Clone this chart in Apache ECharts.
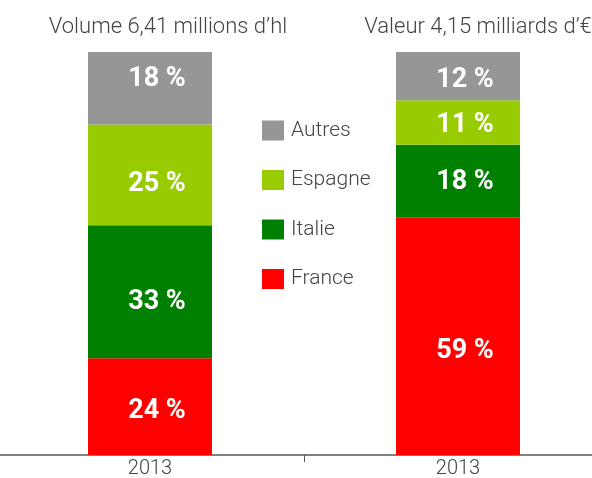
<!DOCTYPE html>
<html>
<head>
<meta charset="utf-8">
<script src="https://cdn.jsdelivr.net/npm/echarts@6/dist/echarts.min.js"></script>
<style>html,body{margin:0;padding:0;background:#fff}#c{width:592px;height:478px}</style>
</head>
<body>
<div id="c"></div>
<script>
var categories = ['2013', '2013'];
var panelTitles = ['Volume 6,41 millions d\u2019hl', 'Valeur 4,15 milliards d\u2019\u20ac'];
var seriesNames = ['France', 'Italie', 'Espagne', 'Autres'];
var france = [24, 59];
var italie = [33, 18];
var espagne = [25, 11];
var autres = [18, 12];

var values = [france, italie, espagne, autres];

// styling: colours and label vertical nudges (px) per series, per bar
var style = {
  colors: ['#ff0000', '#008000', '#99cc00', '#969696'],
  labelNudge: [[5, 15], [10, 1], [9, 3], [-9, 4]]
};

var chart = echarts.init(document.getElementById('c'));
var series = seriesNames.map(function (name, i) {
  return {
    name: name,
    type: 'bar',
    stack: 'total',
    barWidth: 124,
    data: values[i].map(function (v, j) {
      return { value: v, label: { offset: [7, style.labelNudge[i][j]] } };
    }),
    itemStyle: { color: style.colors[i] },
    label: {
      show: true,
      position: 'inside',
      formatter: '{c} %',
      color: '#fff',
      fontFamily: 'Roboto',
      fontWeight: 'bold',
      fontSize: 27
    }
  };
});

chart.setOption({
  animation: false,
  backgroundColor: '#fff',
  title: [
    { text: panelTitles[0], left: 163, top: 11, textAlign: 'center',
      textStyle: { fontFamily: 'Roboto', fontWeight: 300, fontSize: 22, color: '#444' } },
    { text: panelTitles[1], left: 473, top: 11, textAlign: 'center',
      textStyle: { fontFamily: 'Roboto', fontWeight: 300, fontSize: 22, color: '#444' } }
  ],
  legend: {
    orient: 'vertical',
    left: 257,
    top: 115,
    itemWidth: 22,
    itemHeight: 20,
    itemGap: 28.5,
    icon: 'rect',
    data: ['Autres', 'Espagne', 'Italie', 'France'],
    textStyle: { fontFamily: 'Roboto', fontWeight: 300, fontSize: 21, color: '#444', padding: [0, 0, 0, 2] }
  },
  grid: { left: -4, width: 616, top: 52, height: 403, containLabel: false, outerBoundsMode: 'none' },
  xAxis: {
    type: 'category',
    data: categories,
    axisLine: { lineStyle: { color: '#808080', width: 2 } },
    axisTick: { show: true, length: 7, lineStyle: { color: '#555', width: 1 } },
    axisLabel: { fontFamily: 'Roboto', fontWeight: 300, fontSize: 20, color: '#444', margin: 4 }
  },
  yAxis: { type: 'value', min: 0, max: 100, show: false },
  series: series
});
</script>
</body>
</html>
